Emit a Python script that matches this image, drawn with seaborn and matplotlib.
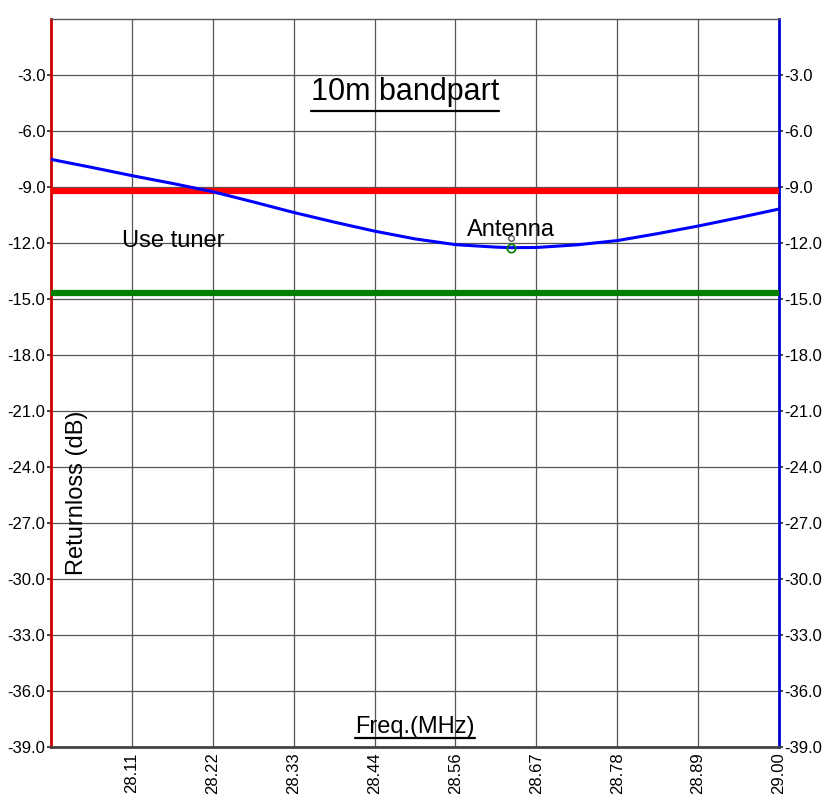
import numpy as np
import pandas as pd
import seaborn as sns
import matplotlib.pyplot as plt

# antenna return loss readings, 10m band
freq_mhz = [28.000, 28.056, 28.111, 28.167, 28.222, 28.278, 28.333, 28.389, 28.444,
            28.500, 28.556, 28.611, 28.632, 28.667, 28.722, 28.778, 28.833, 28.889,
            28.944, 29.000]
returnloss_db = [-7.52, -7.95, -8.39, -8.81, -9.25, -9.80, -10.36, -10.88, -11.36,
                 -11.78, -12.09, -12.22, -12.25, -12.24, -12.10, -11.87, -11.50, -11.09,
                 -10.65, -10.18]
limit_tuner = -9.2
limit_good = -14.7
marker_freq = 28.632
marker_rl = -12.25

xtick_vals = [28.0 + i / 9 for i in range(1, 10)]
ytick_vals = list(range(-39, -2, 3))

sns.set_theme(style="white")
plt.rcParams['font.family'] = ['Liberation Sans', 'DejaVu Sans']
plt.rcParams['text.color'] = 'black'

df = pd.DataFrame({'freq': freq_mhz, 'rl': returnloss_db})

fig = plt.figure(figsize=(8.32, 8.02), dpi=100)
ax = fig.add_axes([51 / 832, 55 / 802, 728 / 832, 728 / 802])

ax.axhline(limit_tuner, color='#ff0000', lw=4.5, zorder=3)
ax.axhline(limit_good, color='#008000', lw=4.5, zorder=3)
sns.lineplot(data=df, x='freq', y='rl', color='#0000ff', lw=2.2, ax=ax, zorder=4)
ax.plot(marker_freq, marker_rl, 'o', ms=6, mfc='none', mec='#008000', mew=1.2, zorder=5)
ax.plot(marker_freq, marker_rl + 0.5, 'o', ms=4, mfc='none', mec='#333333', mew=0.8, zorder=5)

ax.set_xlim(28.0, 29.0)
ax.set_ylim(-39, 0)
ax.set_xticks(xtick_vals)
ax.set_xticklabels([f"{v:.2f}" for v in xtick_vals], rotation=90, fontsize=12)
ax.set_yticks(ytick_vals)
ax.set_yticklabels([f"{v:.1f}" for v in ytick_vals], fontsize=12)
ax.grid(True, color='#555555', lw=0.9)
ax.set_xlabel('')
ax.set_ylabel('')

ax.tick_params(axis='x', length=0, pad=4, labelcolor='black')
ax.tick_params(axis='y', length=3, width=1.2, pad=1, left=True, right=True,
               labelleft=True, labelright=True, labelcolor='black')
for t in ax.yaxis.get_major_ticks():
    t.tick1line.set_color('#cc0000')
    t.tick2line.set_color('#0000cc')

ax.spines['left'].set_color('#cc0000')
ax.spines['left'].set_linewidth(2)
ax.spines['right'].set_color('#0000cc')
ax.spines['right'].set_linewidth(2)
ax.spines['top'].set_color('#555555')
ax.spines['top'].set_linewidth(1)
ax.spines['bottom'].set_color('#444444')
ax.spines['bottom'].set_linewidth(2)

title = ax.text(28.486, -4.34, '10m bandpart', fontsize=22, ha='center', va='baseline')
xlab = ax.text(28.5, -38.25, 'Freq.(MHz)', fontsize=17, ha='center', va='baseline')
ax.text(28.168, -11.9, 'Use tuner', fontsize=17, ha='center', va='center')
ax.text(28.632, -11.3, 'Antenna', fontsize=17, ha='center', va='center')
ax.text(0.036, 0.349, 'Returnloss (dB)', fontsize=17, rotation=90, ha='center',
        va='center', transform=ax.transAxes)

# underline the two headings
fig.canvas.draw()
inv = ax.transAxes.inverted()
for txt, gap in [(title, 11), (xlab, 5)]:
    bb = txt.get_window_extent()
    (x0, _), (x1, _) = inv.transform([(bb.x0, 0), (bb.x1, 0)])
    ybase = ax.transData.transform((0, txt.get_position()[1]))[1] - gap
    yb = inv.transform((0, ybase))[1]
    ax.plot([x0, x1], [yb, yb], color='black', lw=1.6, transform=ax.transAxes,
            clip_on=False)

fig.savefig('out.png', dpi=100)
